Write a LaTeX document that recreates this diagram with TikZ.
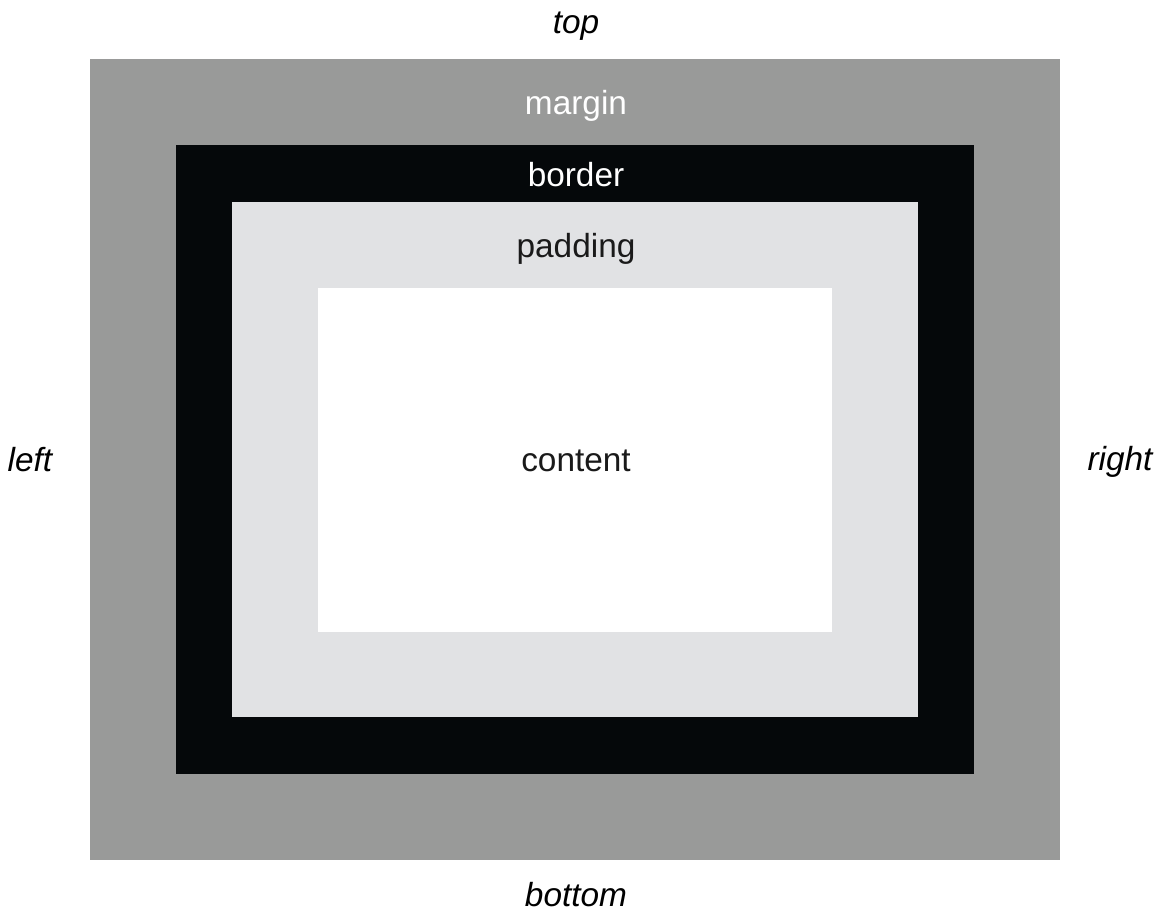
\documentclass[tikz,border=0pt]{standalone}
\usepackage{fontspec}
\setmainfont{Liberation Sans}

\begin{document}
\begin{tikzpicture}[x=0.02cm, y=-0.02cm]
    % Define colors
    \definecolor{marginColour}{HTML}{999A99}
    \definecolor{borderColour}{HTML}{05080A}
    \definecolor{paddingColour}{HTML}{E1E2E4}
    \definecolor{textColour}{HTML}{1A1A1A}

    % Define text styles
    \tikzset{
        boxlabel/.style={font=\fontsize{19}{23}\selectfont, inner sep=0pt, anchor=base},
        sidelabel/.style={boxlabel, font=\fontsize{19}{23}\selectfont\itshape, text=black}
    }

    % Fix picture size
    \useasboundingbox (0,0) rectangle (1163,911);

    % Draw boxes from outside in
    \fill[marginColour] (90,59) rectangle (1060,860);
    \fill[borderColour] (176,145) rectangle (974,774);
    \fill[paddingColour] (232,202) rectangle (918,717);
    \fill[white] (318,288) rectangle (832,632);

    % Label boxes (placed by baseline)
    \node[boxlabel, text=white] (margin) at (576,115) {margin};
    \node[boxlabel, text=white] (border) at (576,187) {border};
    \node[boxlabel, text=textColour] (padding) at (576,258) {padding};
    \node[boxlabel, text=textColour] (content) at (576,472) {content};

    % Label sides
    \node[sidelabel] (top) at (576,34) {top};
    \node[sidelabel] (bottom) at (576,906) {bottom};
    \node[sidelabel] (left) at (30,472) {left};
    \node[sidelabel] (right) at (1120,471) {right};

\end{tikzpicture}
\end{document}
